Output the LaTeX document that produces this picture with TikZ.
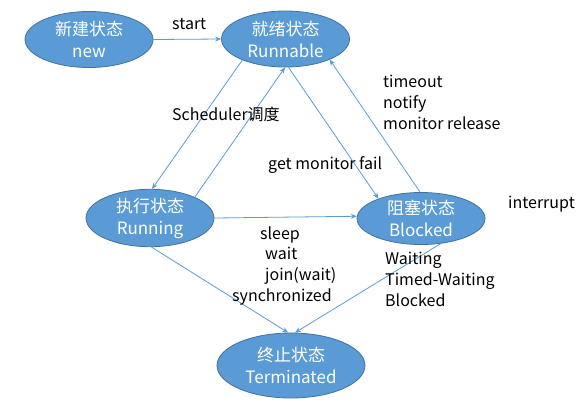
\documentclass[tikz,border=0pt]{standalone}
\usepackage{fontspec}
\setmainfont{Noto Sans CJK SC}
\usetikzlibrary{shapes.geometric,arrows.meta}
\definecolor{stblue}{HTML}{5B9BD5}
\definecolor{stedge}{HTML}{41719C}
\begin{document}
\begin{tikzpicture}[x=1pt,y=-1pt,
 state/.style={ellipse, fill=stblue, draw=stedge, line width=0.8pt, minimum width=128pt, minimum height=56pt, inner sep=0pt, text=white, font=\fontsize{17}{22}\selectfont, align=center},
 flow/.style={draw=stblue, line width=0.8pt, -{Stealth[length=6pt,width=5pt]}},
 lbl/.style={font=\fontsize{16}{21}\selectfont, text=black, inner sep=0pt, anchor=west, text height=11pt, text depth=3pt}]
\useasboundingbox (0,0) rectangle (586,408);
\node[state] (new) at (89,39.5) {新建状态\\new};
\node[state] (rn) at (285.5,39) {就绪状态\\Runnable};
\node[state] (run) at (150,218) {执行状态\\Running};
\node[state, minimum height=52pt] (blk) at (421,218.5) {阻塞状态\\Blocked};
\node[state, minimum width=148pt, minimum height=65pt] (term) at (291,365.5) {终止状态\\Terminated};

\draw[flow] (new.0) -- (rn.180);
\draw[flow] (rn.206) -- (run.86);
\draw[flow] (run.25) -- (rn.269);
\draw[flow] (rn.276) -- (blk.155);
\draw[flow] (blk.92) -- (rn.335);
\draw[flow] (run.0) -- (blk.178);
\draw[flow] (run.273) -- (term.95);
\draw[flow] (blk.308) -- (term.83);

\node[lbl] (l1) at (172,25) {start};
\node[lbl] (l2) at (172,116) {Scheduler调度};
\node[lbl] (l3) at (268,165) {get monitor fail};
\node[lbl] (l4) at (383,83) {timeout};
\node[lbl] (l5) at (383,104) {notify};
\node[lbl] (l6) at (383,125) {monitor release};
\node[lbl] (l7) at (508,204) {interrupt};
\node[lbl] (l8) at (260,235) {sleep};
\node[lbl] (l9) at (265,255) {wait};
\node[lbl] (l10) at (265,276) {join(wait)};
\node[lbl] (l11) at (232,297) {synchronized};
\node[lbl] (l12) at (385,260) {Waiting};
\node[lbl] (l13) at (385,281) {Timed-Waiting};
\node[lbl] (l14) at (385,302) {Blocked};
\end{tikzpicture}
\end{document}
